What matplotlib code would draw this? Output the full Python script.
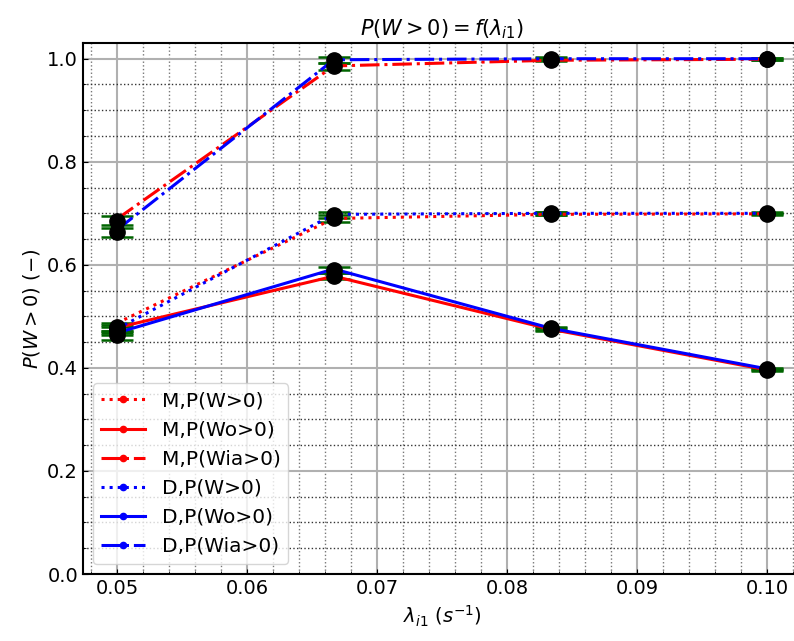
import matplotlib
matplotlib.use('Agg')
import matplotlib.pyplot as plt
from matplotlib.ticker import AutoMinorLocator

# arrival rates
lam = [0.05, 1/15, 1/12, 0.10]

# model curves (M = red, D = blue)
M_W = [0.487, 0.690, 0.698, 0.699]
M_Wo = [0.478, 0.578, 0.475, 0.396]
M_Wia = [0.689, 0.986, 0.997, 0.999]
D_W = [0.476, 0.698, 0.700, 0.700]
D_Wo = [0.468, 0.592, 0.477, 0.398]
D_Wia = [0.668, 0.998, 1.000, 1.000]

# simulation points with confidence intervals
sim_M_W = [0.480, 0.690, 0.699, 0.699]
sim_D_W = [0.475, 0.697, 0.700, 0.700]
sim_M_Wo = [0.472, 0.579, 0.475, 0.396]
sim_D_Wo = [0.463, 0.590, 0.477, 0.398]
sim_M_Wia = [0.686, 0.985, 0.998, 0.999]
sim_D_Wia = [0.663, 0.998, 1.000, 1.000]
sim_err = [0.008, 0.006, 0.003, 0.002]

fig = plt.figure(figsize=(7.94, 6.41), dpi=100)
ax = fig.add_axes([0.1045, 0.1045, 0.905, 0.828])

lw = 2.2
ax.plot(lam, M_W, ':', color='red', marker='.', ms=9, lw=lw, label='M,P(W>0)', zorder=3)
ax.plot(lam, M_Wo, '-', color='red', marker='.', ms=9, lw=lw, label='M,P(Wo>0)', zorder=3)
ax.plot(lam, M_Wia, '-.', color='red', marker='.', ms=9, lw=lw, label='M,P(Wia>0)', zorder=3)
ax.plot(lam, D_W, ':', color='blue', marker='.', ms=9, lw=lw, label='D,P(W>0)', zorder=3)
ax.plot(lam, D_Wo, '-', color='blue', marker='.', ms=9, lw=lw, label='D,P(Wo>0)', zorder=3)
ax.plot(lam, D_Wia, '-.', color='blue', marker='.', ms=9, lw=lw, label='D,P(Wia>0)', zorder=3)

for s in [sim_M_W, sim_D_W, sim_M_Wo, sim_D_Wo, sim_M_Wia, sim_D_Wia]:
    ax.errorbar(lam, s, yerr=sim_err, fmt='none', ecolor='darkgreen',
                elinewidth=1.5, capsize=11.5, capthick=1.8, zorder=2)
    ax.plot(lam, s, 'o', color='black', markersize=11, zorder=4)

ax.set_xlim(0.04738, 0.10262)
ax.set_ylim(0, 1.03)
ax.set_yticks([0.0, 0.2, 0.4, 0.6, 0.8, 1.0])
ax.set_xticks([0.05, 0.06, 0.07, 0.08, 0.09, 0.10])
ax.xaxis.set_minor_locator(AutoMinorLocator(5))
ax.yaxis.set_minor_locator(AutoMinorLocator(4))
ax.grid(which='major', color='#b0b0b0', linestyle='-', linewidth=1.5)
ax.grid(which='minor', axis='y', color='#333333', linestyle=':', linewidth=1)
ax.grid(which='minor', axis='x', color='#777777', linestyle=':', linewidth=1)
ax.tick_params(which='both', direction='in', labelsize=14)
for sp in ax.spines.values():
    sp.set_linewidth(1.5)

ax.set_title(r'$P(W>0)=f(\lambda_{i1})$', fontsize=15)
ax.set_xlabel(r'$\lambda_{i1}$ $(s^{-1})$', fontsize=14)
ax.set_ylabel(r'$P(W>0)$ $(-)$', fontsize=14)
ax.legend(loc='lower left', fontsize=14.5, handlelength=2.2)

fig.savefig('out.png', dpi=100)
